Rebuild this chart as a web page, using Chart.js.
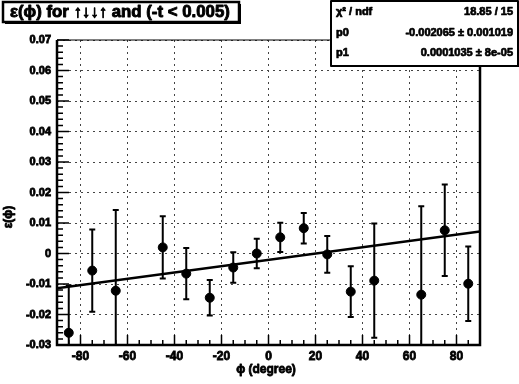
<!DOCTYPE html>
<html>
<head>
<meta charset="utf-8">
<script src="https://cdn.jsdelivr.net/npm/chart.js@4/dist/chart.umd.min.js"></script>
<style>
  html, body { margin: 0; padding: 0; background: #fff; }
  #wrap { width: 519px; height: 384px; position: relative; }
</style>
</head>
<body>
<div id="wrap"><canvas id="c" width="519" height="384"></canvas></div>
<script>
// Asymmetry epsilon(phi) per phi bin, with statistical errors
const phi = [-85, -75, -65, -45, -35, -25, -15, -5, 5, 15, 25, 35, 45, 65, 75, 85];
const eps = [-0.026, -0.0056, -0.0122, 0.002, -0.0066, -0.0145, -0.0046, 0.0, 0.0053, 0.0083, -0.0003, -0.0125, -0.0089, -0.0135, 0.0076, -0.0099];
const epsErr = [0.0155, 0.0135, 0.0265, 0.0102, 0.0084, 0.0058, 0.005, 0.0048, 0.0048, 0.005, 0.006, 0.0083, 0.0187, 0.029, 0.015, 0.0122];

// Linear fit p0 + p1 * phi
const p0 = -0.002065;
const p1 = 0.0001035;
const fitRange = [-90, 90];

// Axis ticks and labels
const xTicks = [-80, -60, -40, -20, 0, 20, 40, 60, 80];
const xTickLabels = ["-80", "-60", "-40", "-20", "0", "20", "40", "60", "80"];
const yTicks = [-0.03, -0.02, -0.01, 0, 0.01, 0.02, 0.03, 0.04, 0.05, 0.06, 0.07];
const yTickLabels = ["-0.03", "-0.02", "-0.01", "0", "0.01", "0.02", "0.03", "0.04", "0.05", "0.06", "0.07"];

// Stats box rows
const statNames = ["χ² / ndf", "p0", "p1"];
const statValues = ["18.85 / 15", "-0.002065 ± 0.001019", "0.0001035 ± 8e-05"];

const titleText = "ε(ϕ) for ↑↓↓↑ and (-t < 0.005)";
const xTitle = "ϕ (degree)";
const yTitle = "ε(ϕ)";

const FONT = "'Liberation Sans', 'DejaVu Sans', Arial, sans-serif";

// heavy text: fill plus a thin outline
function heavyText(ctx, text, x, y, stroke) {
  ctx.fillText(text, x, y);
  ctx.lineWidth = stroke;
  ctx.lineJoin = 'round';
  ctx.strokeText(text, x, y);
}

const frameAndDecor = {
  id: 'frameAndDecor',
  afterDatasetsDraw(chart) {
    const ctx = chart.ctx;
    const a = chart.chartArea;
    const xs = chart.scales.x, ys = chart.scales.y;

    // error bars
    ctx.save();
    ctx.beginPath();
    ctx.rect(a.left, a.top, a.right - a.left, a.bottom - a.top);
    ctx.clip();
    ctx.strokeStyle = '#000';
    ctx.lineWidth = 2;
    for (let i = 0; i < phi.length; i++) {
      const px = xs.getPixelForValue(phi[i]);
      const yt = ys.getPixelForValue(eps[i] + epsErr[i]);
      const yb = ys.getPixelForValue(eps[i] - epsErr[i]);
      ctx.beginPath();
      ctx.moveTo(px, yt); ctx.lineTo(px, yb);
      ctx.moveTo(px - 3, yt); ctx.lineTo(px + 3, yt);
      ctx.moveTo(px - 3, yb); ctx.lineTo(px + 3, yb);
      ctx.stroke();
    }
    ctx.restore();
  },
  afterDraw(chart) {
    const ctx = chart.ctx;
    const a = chart.chartArea;
    const xs = chart.scales.x, ys = chart.scales.y;
    ctx.save();
    ctx.strokeStyle = '#000';

    // inward tick marks
    ctx.lineWidth = 1.5;
    ctx.beginPath();
    for (let v = -90; v <= 90; v += 5) {
      const px = xs.getPixelForValue(v);
      const len = (v % 20 === 0) ? 10 : 5;
      ctx.moveTo(px, a.bottom); ctx.lineTo(px, a.bottom - len);
    }
    for (let k = -15; k <= 35; k++) {
      const v = k * 0.002;
      const py = ys.getPixelForValue(v);
      const len = (k % 5 === 0) ? 12 : 6;
      ctx.moveTo(a.left, py); ctx.lineTo(a.left + len, py);
    }
    ctx.stroke();

    // frame
    ctx.lineWidth = 1;
    ctx.beginPath();
    ctx.moveTo(a.left, a.top); ctx.lineTo(a.right, a.top);
    ctx.stroke();
    ctx.lineWidth = 2.5;
    ctx.beginPath();
    ctx.moveTo(a.left, a.top); ctx.lineTo(a.left, a.bottom);
    ctx.lineTo(a.right, a.bottom); ctx.lineTo(a.right, a.top);
    ctx.stroke();

    // title box
    ctx.fillStyle = '#fff';
    ctx.fillRect(3, 2, 236, 20);
    ctx.lineWidth = 2.5;
    ctx.strokeRect(3, 2, 236, 20);
    ctx.fillStyle = '#000';
    ctx.fillRect(5, 22, 236, 2);
    ctx.fillRect(239, 4, 2, 20);
    let fs = 15;
    ctx.font = `bold ${fs}px ${FONT}`;
    const w = ctx.measureText(titleText).width;
    fs = fs * 220 / w;
    ctx.font = `bold ${fs.toFixed(2)}px ${FONT}`;
    ctx.textAlign = 'left';
    ctx.textBaseline = 'middle';
    heavyText(ctx, titleText, 10, 12.5, 0.9);

    // stats box
    ctx.fillStyle = '#fff';
    ctx.fillRect(331, 1, 187, 65);
    ctx.lineWidth = 2;
    ctx.strokeRect(331, 1, 187, 65);
    ctx.fillStyle = '#000';
    ctx.fillRect(331, 65, 188, 2);
    ctx.font = `bold 11px ${FONT}`;
    const rowsY = [12, 33, 53];
    for (let i = 0; i < statNames.length; i++) {
      ctx.textAlign = 'left';
      heavyText(ctx, statNames[i], 336, rowsY[i], 0.7);
      ctx.textAlign = 'right';
      heavyText(ctx, statValues[i], 513, rowsY[i], 0.7);
    }

    // axis titles
    ctx.font = `bold 12px ${FONT}`;
    ctx.textAlign = 'center';
    ctx.textBaseline = 'middle';
    heavyText(ctx, xTitle, 266, 370, 0.8);
    ctx.save();
    ctx.translate(9, 217);
    ctx.rotate(-Math.PI / 2);
    heavyText(ctx, yTitle, 0, 0, 0.8);
    ctx.restore();

    ctx.restore();
  }
};

new Chart(document.getElementById('c'), {
  type: 'scatter',
  data: {
    datasets: [
      {
        label: 'fit',
        type: 'line',
        data: fitRange.map(x => ({ x: x, y: p0 + p1 * x })),
        borderColor: '#000',
        borderWidth: 2.5,
        pointRadius: 0,
        fill: false,
        order: 2
      },
      {
        label: 'epsilon',
        data: phi.map((x, i) => ({ x: x, y: eps[i] })),
        backgroundColor: '#000',
        borderColor: '#000',
        pointRadius: 4.5,
        pointHoverRadius: 4.5,
        order: 1
      }
    ]
  },
  options: {
    responsive: false,
    animation: false,
    events: [],
    layout: { padding: { left: 0, top: 40, right: 39, bottom: 0 } },
    plugins: { legend: { display: false }, tooltip: { enabled: false }, title: { display: false } },
    scales: {
      x: {
        type: 'linear',
        min: -90,
        max: 90,
        afterBuildTicks: s => { s.ticks = xTicks.map(v => ({ value: v })); },
        afterFit: s => { s.height = 39; },
        ticks: {
          autoSkip: false,
          maxRotation: 0,
          padding: 4,
          color: '#000',
          textStrokeColor: '#000',
          textStrokeWidth: 0.8,
          font: { family: FONT, size: 12, weight: 'bold' },
          callback: (v, i) => xTickLabels[i]
        },
        grid: { color: '#444', lineWidth: 1, drawTicks: false },
        border: { display: false, dash: [2, 4] }
      },
      y: {
        type: 'linear',
        min: -0.03,
        max: 0.07,
        afterBuildTicks: s => { s.ticks = yTicks.map(v => ({ value: v })); },
        afterFit: s => { s.width = 57; },
        ticks: {
          autoSkip: false,
          padding: 6,
          color: '#000',
          textStrokeColor: '#000',
          textStrokeWidth: 0.8,
          font: { family: FONT, size: 11, weight: 'bold' },
          callback: (v, i) => yTickLabels[i]
        },
        grid: { color: '#444', lineWidth: 1, drawTicks: false },
        border: { display: false, dash: [2, 4] }
      }
    }
  },
  plugins: [frameAndDecor]
});
</script>
</body>
</html>
